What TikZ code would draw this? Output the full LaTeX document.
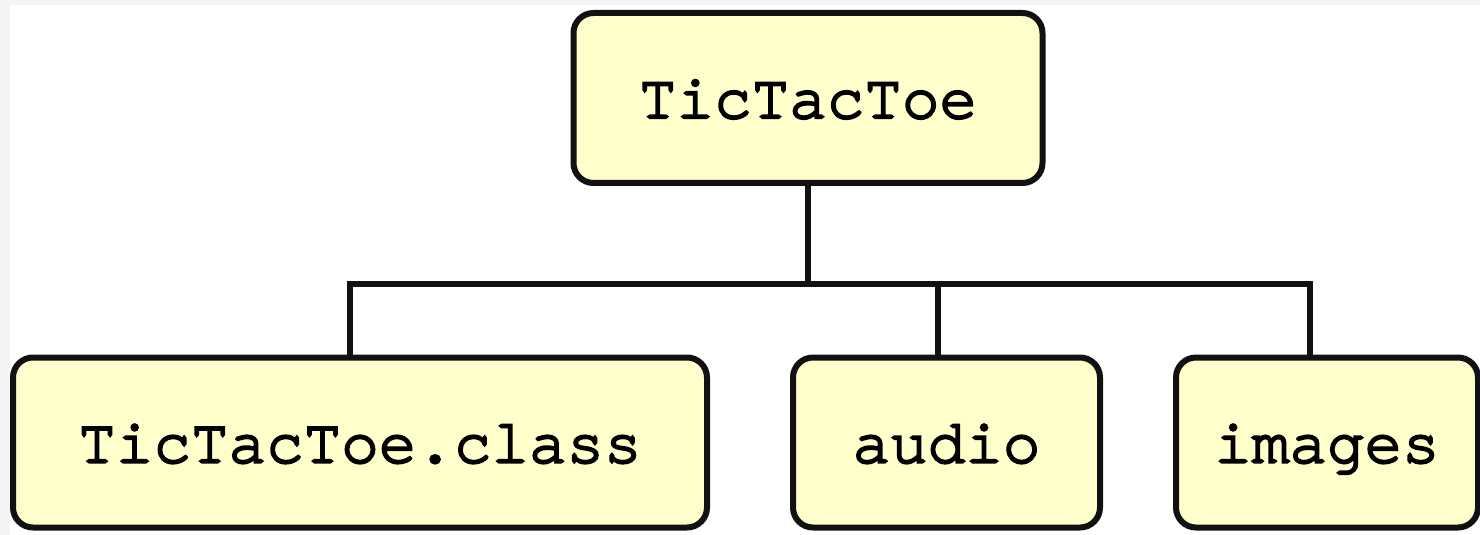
\documentclass[tikz,border=0pt]{standalone}
\usepackage{fontspec}
\setmonofont{texgyrecursor}[Extension=.otf, UprightFont=*-regular, BoldFont=*-regular,
    BoldFeatures={FakeBold=3.5}]
\definecolor{boxfill}{HTML}{FFFFCC}
\definecolor{edge}{HTML}{111111}

\begin{document}
\begin{tikzpicture}[x=0.5pt, y=-0.5pt,
    folder/.style={draw=edge, fill=boxfill, line width=3pt, rounded corners=10pt,
        inner sep=0pt, minimum height=85pt, text height=20pt, text depth=0pt,
        font=\ttfamily\bfseries\fontsize{31.3}{31.3}\selectfont},
    link/.style={draw=edge, line width=3pt}]
    % page and margins
    \fill[gray!8] (0,0) rectangle (1480,535);
    \fill[white] (10,5) rectangle (1480,535);
    \useasboundingbox (0,0) rectangle (1480,535);
    % folders
    \node[folder, minimum width=234.5pt] (root) at (808,98) {TicTacToe};
    \node[folder, minimum width=347pt] (cls) at (360,442.5) {TicTacToe.class};
    \node[folder, minimum width=153.5pt] (aud) at (946.5,442.5) {audio};
    \node[folder, minimum width=151pt] (img) at (1327,442.5) {images};
    % tree lines
    \coordinate (bus) at (808,284);
    \coordinate (busl) at (350,284);
    \coordinate (busm) at (938,284);
    \coordinate (busr) at (1310,284);
    \draw[link] (root.south) -- (bus);
    \draw[link, line join=miter] (cls.north -| busl) -- (busl) -- (busr) -- (img.north -| busr);
    \draw[link] (busm) -- (aud.north -| busm);
\end{tikzpicture}
\end{document}
